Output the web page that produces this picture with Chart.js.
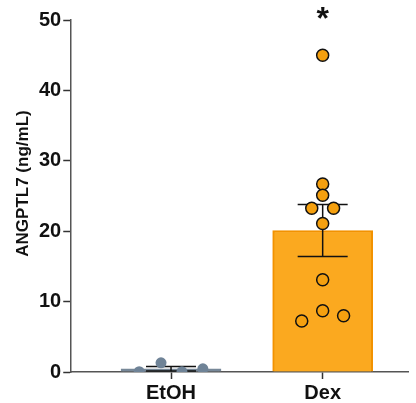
<!DOCTYPE html>
<html>
<head>
<meta charset="utf-8">
<script src="https://cdn.jsdelivr.net/npm/chart.js@4/dist/chart.umd.min.js"></script>
<style>
  html, body { margin: 0; padding: 0; background: #fff; overflow: hidden; }
  #wrap { width: 416px; height: 403px; position: relative; }
  canvas { display: block; }
</style>
</head>
<body>
<div id="wrap"><canvas id="barChart"></canvas></div>
<script>
const groups = ['EtOH', 'Dex'];
const means = [0.45, 20.1];
const sems = [0.32, 3.7];
const etohPoints = [0.05, 1.3, 0.05, 0.45];
const dexPoints = [45.0, 26.7, 25.1, 23.25, 23.25, 21.1, 13.1, 8.7, 7.25, 8.0];
const yTicks = [0, 10, 20, 30, 40, 50];
const significance = ['', '*'];
const yTitle = 'ANGPTL7 (ng/mL)';

// spread of the dots inside each column, in x units
const etohJitter = [-0.21, -0.066, 0.072, 0.21];
const dexJitter = [0, 0, 0, -0.072, 0.072, 0, 0, 0, -0.138, 0.138];

const grey = '#778899';
const orange = '#FBA91F';
const orangeDark = '#F29200';
const fontFamily = '"Liberation Sans", Arial, sans-serif';

const errorBars = {
  id: 'errorBars',
  afterDatasetDraw(chart, args) {
    if (args.index !== 0) return;
    const { ctx, scales: { x, y } } = chart;
    ctx.save();
    ctx.strokeStyle = '#111';
    ctx.lineWidth = 1.5;
    means.forEach((m, i) => {
      const px = x.getPixelForValue(i);
      const top = y.getPixelForValue(m + sems[i]);
      const bot = y.getPixelForValue(m - sems[i]);
      const cap = 25;
      ctx.beginPath();
      ctx.moveTo(px, top);
      ctx.lineTo(px, bot);
      ctx.moveTo(px - cap, top);
      ctx.lineTo(px + cap, top);
      ctx.moveTo(px - cap, bot);
      ctx.lineTo(px + cap, bot);
      ctx.stroke();
    });
    ctx.restore();
  },
  afterDraw(chart) {
    const { ctx, scales: { x, y } } = chart;
    ctx.save();
    ctx.fillStyle = '#111';
    ctx.textAlign = 'center';
    ctx.textBaseline = 'middle';
    ctx.font = 'bold 32px ' + fontFamily;
    significance.forEach((s, i) => {
      if (s) ctx.fillText(s, x.getPixelForValue(i), 20);
    });
    ctx.font = 'bold 17px ' + fontFamily;
    ctx.translate(23, 183.5);
    ctx.rotate(-Math.PI / 2);
    ctx.fillText(yTitle, 0, 0);
    ctx.restore();
  }
};

const ctx = document.getElementById('barChart').getContext('2d');

const chart = new Chart(ctx, {
  type: 'bar',
  data: {
    datasets: [
      {
        type: 'bar',
        data: means.map((m, i) => ({ x: i, y: m })),
        backgroundColor: [grey, orange],
        borderColor: [grey, orangeDark],
        borderWidth: 2,
        barThickness: 100,
        grouped: false,
        order: 3,
      },
      {
        type: 'scatter',
        data: etohPoints.map((v, i) => ({ x: 0 + etohJitter[i], y: v })),
        backgroundColor: '#6F8397',
        borderColor: '#6F8397',
        borderWidth: 0,
        pointRadius: 5.5,
        order: 1,
      },
      {
        type: 'scatter',
        data: dexPoints.map((v, i) => ({ x: 1 + dexJitter[i], y: v })),
        backgroundColor: '#F5A00F',
        borderColor: '#111',
        borderWidth: 1.5,
        pointRadius: 6,
        order: 1,
      },
    ],
  },
  options: {
    responsive: true,
    maintainAspectRatio: false,
    animation: false,
    layout: {
      padding: { left: 37, top: 20, right: 0, bottom: -4 },
    },
    plugins: {
      legend: { display: false },
      tooltip: { enabled: false },
    },
    scales: {
      x: {
        type: 'linear',
        offset: false,
        min: -0.658,
        max: 1.566,
        afterBuildTicks: (axis) => {
          axis.ticks = groups.map((g, i) => ({ value: i }));
        },
        grid: {
          drawOnChartArea: false,
          offset: false,
          tickLength: 7,
          tickColor: '#333',
          tickWidth: 1.5,
        },
        border: { color: '#555', width: 1.5 },
        ticks: {
          callback: (v) => groups[v],
          color: '#111',
          padding: 7,
          maxRotation: 0,
          font: { family: fontFamily, size: 20, weight: 'bold', lineHeight: 0.7 },
        },
      },
      y: {
        min: 0,
        max: 50,
        afterBuildTicks: (axis) => {
          axis.ticks = yTicks.map((v) => ({ value: v }));
        },
        grid: {
          drawOnChartArea: false,
          tickLength: 8,
          tickColor: '#333',
          tickWidth: 1.5,
        },
        border: { color: '#555', width: 1.5 },
        ticks: {
          color: '#111',
          padding: 2,
          font: { family: fontFamily, size: 20, weight: 'bold' },
        },
      },
    },
  },
  plugins: [errorBars],
});
</script>
</body>
</html>
